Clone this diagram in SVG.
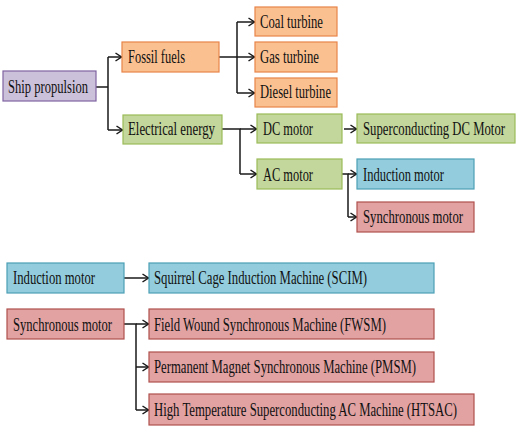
<svg xmlns="http://www.w3.org/2000/svg" width="521" height="435" viewBox="0 0 521 435">
<defs>
<style>
text{font-family:"Liberation Serif","DejaVu Serif",serif;font-size:18px;fill:#111}
.pu{fill:#ccc1da;stroke:#8064a2;stroke-width:1.2}
.or{fill:#fac090;stroke:#e8844a;stroke-width:1.2}
.gr{fill:#c3d69b;stroke:#9bbb59;stroke-width:1.2}
.bl{fill:#93cddd;stroke:#4b9fb5;stroke-width:1.2}
.rd{fill:#e2a2a2;stroke:#b0504d;stroke-width:1.2}
.c{fill:none;stroke:#1a1a1a;stroke-width:1.5}
</style>
<marker id="a" viewBox="0 0 8 10" refX="7.5" refY="5" markerWidth="8" markerHeight="10" markerUnits="userSpaceOnUse" orient="auto">
<path d="M1,1 L7,5 L1,9" fill="none" stroke="#1a1a1a" stroke-width="1.5"/>
</marker>
</defs>
<rect width="521" height="435" fill="#fff"/>
<g id="connectors">
<path class="c" d="M96,87 H108 M108,57 V130"/>
<path class="c" marker-end="url(#a)" d="M108,57 H122"/>
<path class="c" marker-end="url(#a)" d="M108,130 H123"/>
<path class="c" d="M219,57 H237 M237,22 V93"/>
<path class="c" marker-end="url(#a)" d="M237,22 H255"/>
<path class="c" marker-end="url(#a)" d="M237,57 H255"/>
<path class="c" marker-end="url(#a)" d="M237,93 H255"/>
<path class="c" d="M222,129 H240 V174"/>
<path class="c" marker-end="url(#a)" d="M240,129 H257"/>
<path class="c" marker-end="url(#a)" d="M240,174 H257"/>
<path class="c" marker-end="url(#a)" d="M344,129 H357"/>
<path class="c" d="M342,174 H348 V217"/>
<path class="c" marker-end="url(#a)" d="M348,174 H357"/>
<path class="c" marker-end="url(#a)" d="M348,217 H357"/>
<path class="c" marker-end="url(#a)" d="M124,278 H149"/>
<path class="c" d="M124,324 H136 V410"/>
<path class="c" marker-end="url(#a)" d="M136,324 H149"/>
<path class="c" marker-end="url(#a)" d="M136,367 H149"/>
<path class="c" marker-end="url(#a)" d="M136,410 H149"/>
</g>
<g id="ship"><rect class="pu" x="3" y="71" width="93" height="30"/><text x="8" y="93" textLength="80" lengthAdjust="spacingAndGlyphs">Ship propulsion</text></g>
<g id="fossil"><rect class="or" x="122" y="42" width="97" height="30"/><text x="128" y="63" textLength="57" lengthAdjust="spacingAndGlyphs">Fossil fuels</text></g>
<g id="electrical"><rect class="gr" x="123" y="115" width="99" height="29"/><text x="128" y="135" textLength="87" lengthAdjust="spacingAndGlyphs">Electrical energy</text></g>
<g id="coal"><rect class="or" x="255" y="7" width="82" height="29"/><text x="260" y="28" textLength="63" lengthAdjust="spacingAndGlyphs">Coal turbine</text></g>
<g id="gas"><rect class="or" x="255" y="42" width="82" height="30"/><text x="260" y="63" textLength="59" lengthAdjust="spacingAndGlyphs">Gas turbine</text></g>
<g id="diesel"><rect class="or" x="255" y="78" width="82" height="29"/><text x="260" y="98" textLength="71" lengthAdjust="spacingAndGlyphs">Diesel turbine</text></g>
<g id="dc"><rect class="gr" x="257" y="114" width="85" height="29"/><text x="263" y="135" textLength="50" lengthAdjust="spacingAndGlyphs">DC motor</text></g>
<g id="scdc"><rect class="gr" x="357" y="114" width="158" height="29"/><text x="363" y="135" textLength="142" lengthAdjust="spacingAndGlyphs">Superconducting DC Motor</text></g>
<g id="ac"><rect class="gr" x="257" y="159" width="85" height="30"/><text x="263" y="181" textLength="50" lengthAdjust="spacingAndGlyphs">AC motor</text></g>
<g id="induction1"><rect class="bl" x="357" y="159" width="117" height="30"/><text x="363" y="181" textLength="81" lengthAdjust="spacingAndGlyphs">Induction motor</text></g>
<g id="sync1"><rect class="rd" x="357" y="202" width="117" height="30"/><text x="363" y="223" textLength="100" lengthAdjust="spacingAndGlyphs">Synchronous motor</text></g>
<g id="induction2"><rect class="bl" x="7" y="263" width="117" height="30"/><text x="13" y="284" textLength="82" lengthAdjust="spacingAndGlyphs">Induction motor</text></g>
<g id="scim"><rect class="bl" x="149" y="263" width="285" height="30"/><text x="154" y="284" textLength="213" lengthAdjust="spacingAndGlyphs">Squirrel Cage Induction Machine (SCIM)</text></g>
<g id="sync2"><rect class="rd" x="7" y="309" width="117" height="30"/><text x="13" y="331" textLength="99" lengthAdjust="spacingAndGlyphs">Synchronous motor</text></g>
<g id="fwsm"><rect class="rd" x="149" y="309" width="285" height="30"/><text x="154" y="331" textLength="232" lengthAdjust="spacingAndGlyphs">Field Wound Synchronous Machine (FWSM)</text></g>
<g id="pmsm"><rect class="rd" x="149" y="352" width="285" height="30"/><text x="154" y="373" textLength="262" lengthAdjust="spacingAndGlyphs">Permanent Magnet Synchronous Machine (PMSM)</text></g>
<g id="htsac"><rect class="rd" x="149" y="394" width="325" height="31"/><text x="154" y="416" textLength="303" lengthAdjust="spacingAndGlyphs">High Temperature Superconducting AC Machine (HTSAC)</text></g>
</svg>
